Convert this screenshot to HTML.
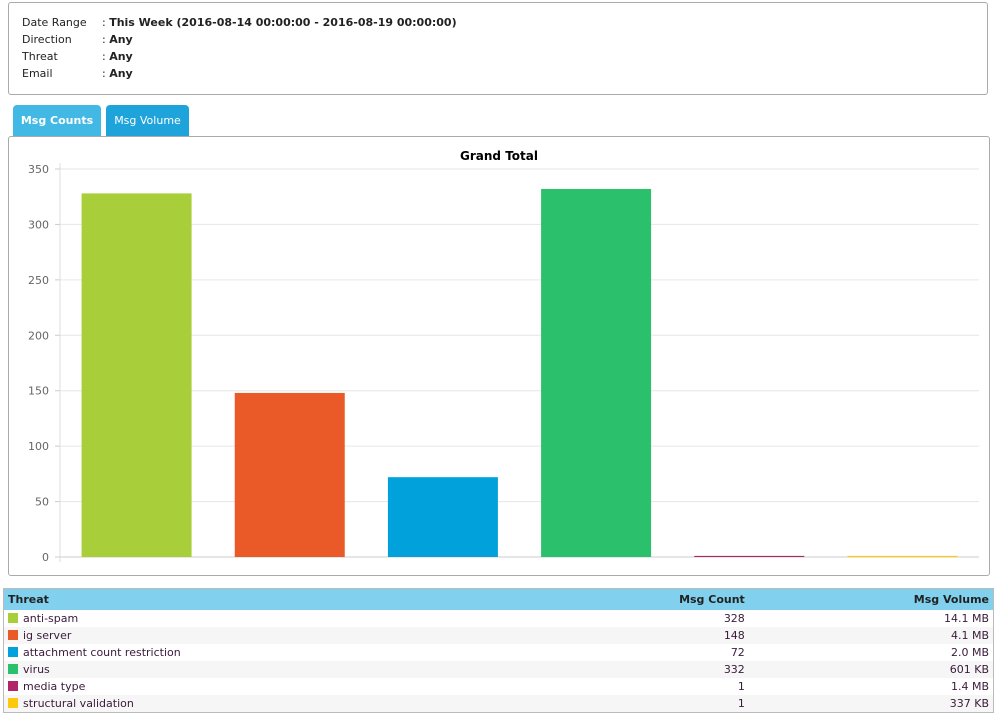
<!DOCTYPE html>
<html><head><meta charset="utf-8"><style>
body{margin:0;width:998px;height:717px;background:#fff;font-family:"DejaVu Sans","Liberation Sans",sans-serif;font-size:11px;color:#222;position:relative;overflow:hidden}
.filter{position:absolute;left:8px;top:2px;width:978px;height:91px;border:1px solid #aaa;border-radius:3px}
.filter div{position:absolute;left:13px}
.filter span.l{display:inline-block;width:80px}
.filter b{font-weight:bold}
.tab{position:absolute;top:105px;height:31px;line-height:31px;color:#fff;font-weight:bold;font-size:11px;text-align:center;border-radius:4px 4px 0 0}
.chartbox{position:absolute;left:8px;top:136px;width:980px;height:438px;border:1px solid #aaa;border-radius:3px}
table{position:absolute;left:3px;top:588px;width:991px;border-collapse:collapse;border:1px solid #bbb;font-size:11px}
th{background:#80d0ee;height:21px;text-align:left;padding:0 4px;font-weight:bold}
td{height:17px;padding:0 4px;color:#3a1a3a}
tr:nth-child(even) td{background:#f6f6f6}
.r{text-align:right}
.sw{display:inline-block;width:10px;height:10px;vertical-align:-1px;margin-right:5px}
</style></head><body>
<div class="filter">
<div style="top:13px"><span class="l">Date Range</span>: <b>This Week (2016-08-14 00:00:00 - 2016-08-19 00:00:00)</b></div>
<div style="top:30px"><span class="l">Direction</span>: <b>Any</b></div>
<div style="top:47px"><span class="l">Threat</span>: <b>Any</b></div>
<div style="top:64px"><span class="l">Email</span>: <b>Any</b></div>
</div>
<div class="tab" style="left:13px;width:88px;background:#42b9e4">Msg Counts</div>
<div class="tab" style="left:106px;width:83px;background:#1ea4da;font-weight:normal">Msg Volume</div>
<div class="chartbox"></div>
<svg id="chart" style="position:absolute;left:0;top:0" width="998" height="580"></svg>
<table>
<tr><th>Threat</th><th class="r">Msg Count</th><th class="r">Msg Volume</th></tr>
<tbody id="tb"></tbody>
</table>
<script>
const categories=["anti-spam","ig server","attachment count restriction","virus","media type","structural validation"];
const counts=[328,148,72,332,1,1];
const volumes=["14.1 MB","4.1 MB","2.0 MB","601 KB","1.4 MB","337 KB"];
const colors=["#a8cf3a","#e95a28","#01a2dc","#2bc06b","#b12468","#fdc90d"];
const ticks=[0,50,100,150,200,250,300,350];
const ns="http://www.w3.org/2000/svg";
const svg=document.getElementById('chart');
const x0=60,x1=979,y0=557,yTop=169,yMax=350;
const y=v=>y0-(v/yMax)*(y0-yTop);
const bw=(x1-x0)/categories.length;
function mk(t,a){const e=document.createElementNS(ns,t);for(const k in a)e.setAttribute(k,a[k]);svg.appendChild(e);return e;}
let t=mk('text',{x:499,y:160,'text-anchor':'middle','font-size':12,'font-weight':'bold','font-family':'DejaVu Sans, sans-serif'});
t.textContent='Grand Total';
ticks.forEach(v=>{
 const g=mk('line',{x1:x0,x2:x1,y1:y(v),y2:y(v),stroke:v?'#e6e6e6':'#ccc'});
 
 mk('line',{x1:55,x2:60,y1:y(v),y2:y(v),stroke:'#ccc'});
 const l=mk('text',{x:49,y:y(v)+4,'text-anchor':'end','font-size':11,fill:'#666','font-family':'DejaVu Sans, sans-serif'});
 l.textContent=v;
});
mk('line',{x1:60,x2:60,y1:163,y2:562,stroke:'#ddd'});
counts.forEach((v,i)=>{
 const bx=x0+i*bw+(bw-110)/2;
 const r=mk('rect',{x:bx,y:y(v),width:110,height:Math.max(y0-y(v),1),fill:colors[i]});
 
});
const tb=document.getElementById('tb');
categories.forEach((c,i)=>{
 const tr=document.createElement('tr');
 
 
 tr.innerHTML='<td><span class="sw" style="background:'+colors[i]+'"></span>'+c+'</td><td class="r">'+counts[i]+'</td><td class="r">'+volumes[i]+'</td>';
 tb.appendChild(tr);
});
</script>
</body></html>
